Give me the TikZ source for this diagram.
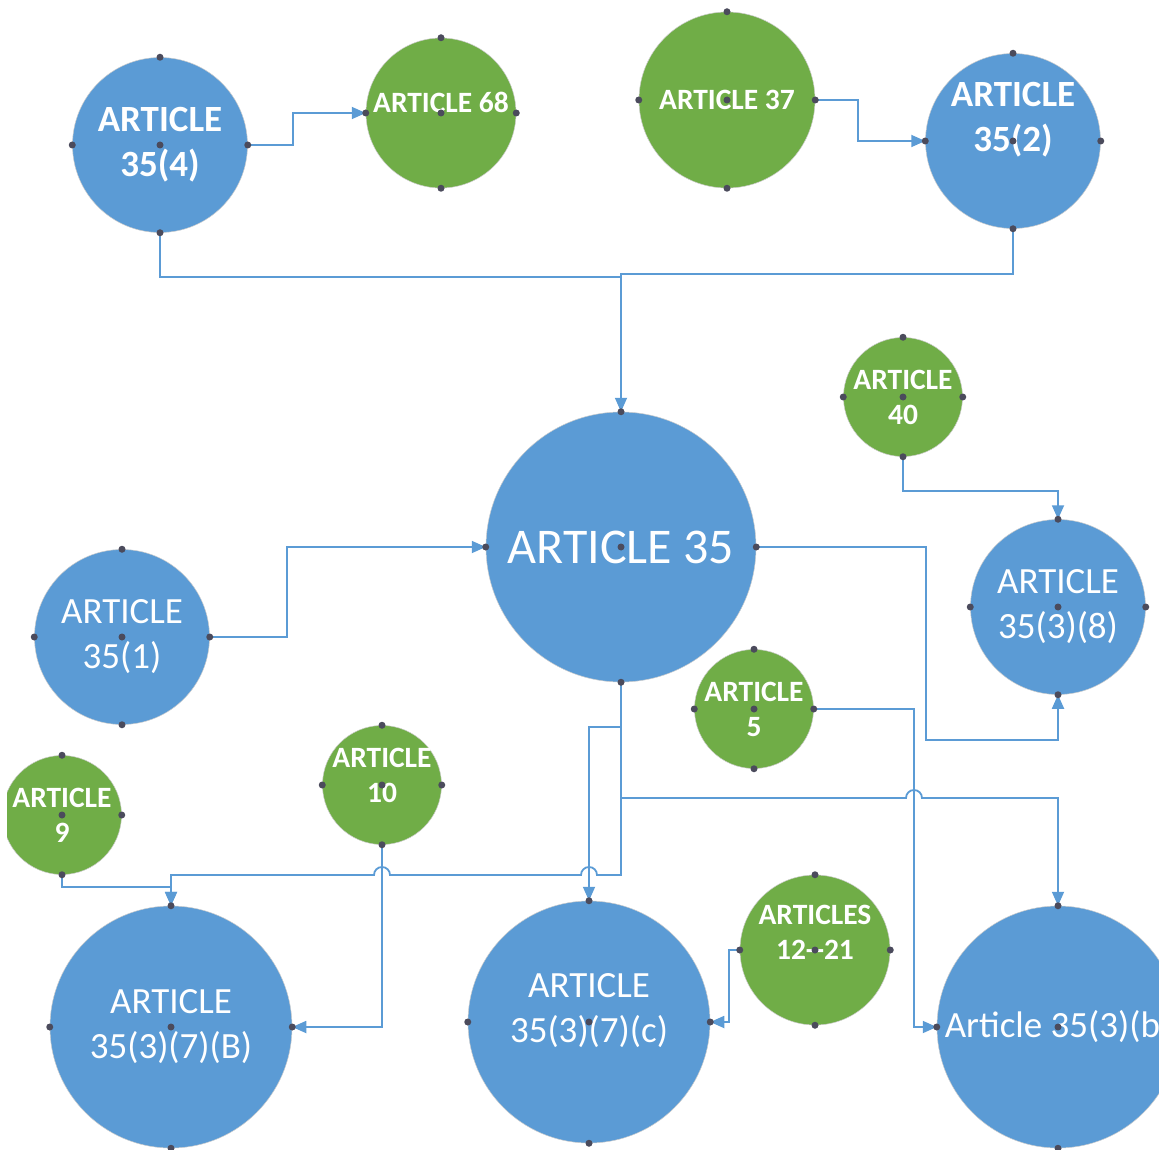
\documentclass[tikz,border=0pt]{standalone}
\usepackage{fontspec}
\setmainfont{Carlito}
\usetikzlibrary{arrows.meta}
\definecolor{artblue}{RGB}{91,155,213}
\definecolor{artgreen}{RGB}{112,173,71}
\definecolor{linkblue}{RGB}{91,155,213}
\definecolor{pindot}{RGB}{75,75,92}
\tikzset{
	art/.style={circle, draw=black!20, line width=0.5pt, text=white, align=center, inner sep=-8pt},
	bluec/.style={art, fill=artblue},
	greenc/.style={art, fill=artgreen},
	lbl/.style={text=white, align=center},
	plaintxt/.style={font=\fontsize{37}{45}\selectfont},
	boldtxt/.style={font=\bfseries\fontsize{37}{45}\selectfont},
	smalltxt/.style={font=\bfseries\fontsize{29.5}{35}\selectfont},
	link/.style={draw=linkblue, line width=1.8pt},
	arr/.style={link, -{Triangle[length=14pt,width=12pt]}},
}
\begin{document}
\begin{tikzpicture}[x=1pt, y=-1pt]
	\useasboundingbox (0,0) rectangle (1159,1150);
	\clip (7,0) rectangle (1159,1150);
	% top row
	\node[bluec, boldtxt, minimum size=175pt] (a354) at (160,145) {ARTICLE\\35(4)};
	\node[greenc, minimum size=150pt, label={[lbl, smalltxt, yshift=11pt]center:ARTICLE 68}] (a68) at (441,113) {};
	\node[greenc, smalltxt, minimum size=176pt] (a37) at (727,100) {ARTICLE 37};
	\node[bluec, minimum size=175pt, label={[lbl, boldtxt, yshift=21pt]center:ARTICLE\\35(2)}] (a352) at (1013,141) {};
	% middle
	\node[bluec, font=\fontsize{50}{60}\selectfont, minimum size=270pt] (a35) at (621,547) {ARTICLE 35};
	\node[greenc, smalltxt, minimum size=119pt] (a40) at (903,397) {ARTICLE\\40};
	\node[bluec, plaintxt, minimum size=175pt] (a3538) at (1058,607) {ARTICLE\\35(3)(8)};
	\node[bluec, plaintxt, minimum size=175pt] (a351) at (122,637) {ARTICLE\\35(1)};
	\node[greenc, smalltxt, minimum size=119pt] (a5) at (754,709) {ARTICLE\\5};
	\node[greenc, smalltxt, minimum size=119pt] (a9) at (62,815) {ARTICLE\\9};
	\node[greenc, minimum size=119pt, label={[lbl, smalltxt, yshift=10pt]center:ARTICLE\\10}] (a10) at (382,785) {};
	% bottom row
	\node[bluec, plaintxt, minimum size=242pt] (a3537b) at (171,1027) {ARTICLE\\35(3)(7)(B)};
	\node[bluec, minimum size=242pt, label={[lbl, plaintxt, yshift=11pt]center:ARTICLE\\35(3)(7)(c)}] (a3537c) at (589,1022) {};
	\node[greenc, minimum size=150pt, label={[lbl, smalltxt, yshift=18pt]center:ARTICLES\\12-{}-21}] (a1221) at (815,950) {};
	\node[bluec, plaintxt, minimum size=242pt] (a353b) at (1058,1027) {Article 35(3)(b)};

	% connectors
	\draw[arr] (a354.east) -- ++(45,0) |- (a68.west);
	\draw[arr] (a37.east) -- ++(43,0) |- (a352.west);
	\draw[arr] (a354.south) -- ++(0,44) -| (a35.north);
	\draw[link] (a352.south) -- ++(0,45) -| (a35.north);
	\draw[arr] (a351.east) -- ++(77,0) |- (a35.west);
	\draw[arr] (a40.south) -- ++(0,34) -| (a3538.north);
	\draw[arr] (a35.east) -- ++(170,0) -- ++(0,193) -| (a3538.south);
	\draw[arr] (a5.east) -- ++(100,0) |- (a353b.west);
	\draw[arr] (a35.south) -- (621,798) -- (906,798)
		arc[start angle=180, end angle=0, radius=8pt] -| (a353b.north);
	\draw[arr] (a35.south) -- (621,875) -- (597,875)
		arc[start angle=0, end angle=180, radius=8pt] -- (390,875)
		arc[start angle=0, end angle=180, radius=8pt] -| (a3537b.north);
	\draw[arr] (a35.south) -- ++(0,45) -| (a3537c.north);
	\draw[arr] (a9.south) -- ++(0,12) -| (a3537b.north);
	\draw[arr] (a10.south) |- (a3537b.east);
	\draw[arr] (a1221.west) -- ++(-11,0) |- (a3537c.east);

	% connection points
	\foreach \n in {a354,a68,a37,a352,a35,a40,a3538,a351,a5,a9,a10,a3537b,a3537c,a1221,a353b}
		\foreach \a in {north,south,east,west,center}
			\fill[pindot] (\n.\a) circle (3.5pt);
\end{tikzpicture}
\end{document}
